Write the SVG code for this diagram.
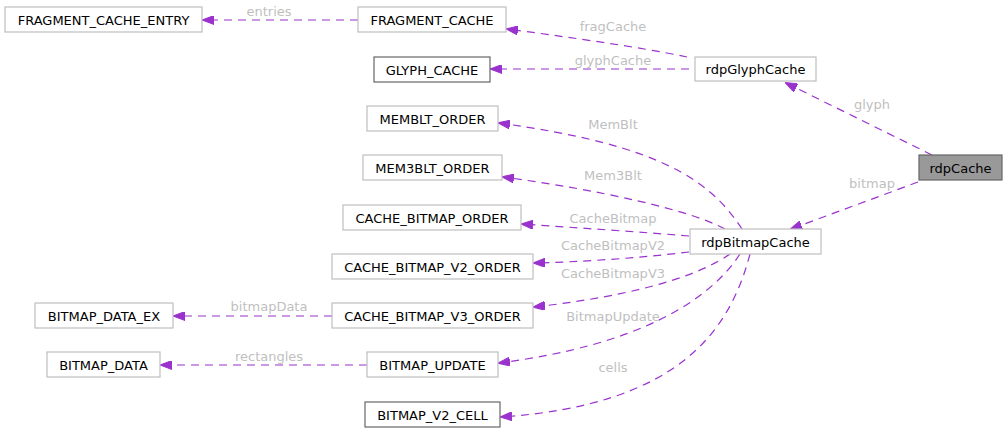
<svg xmlns="http://www.w3.org/2000/svg" width="1008" height="433" viewBox="0 0 1008 433">
<style>
text{font-family:"DejaVu Sans","Liberation Sans",sans-serif;font-size:13px;text-anchor:middle}
.n rect{fill:#fff;stroke:#bfbfbf;stroke-width:1.2}
.n text{fill:#000}
.d rect{stroke:#666}
.r rect{fill:#999;stroke:#666}
.e path{fill:none;stroke:#9a32cd;stroke-width:1.2;stroke-dasharray:8,6;marker-end:url(#ah)}
.e text{fill:#bfbfbf}
</style>
<defs>
<marker id="ah" viewBox="0 0 12 9" refX="11" refY="4.5" markerWidth="12" markerHeight="9" markerUnits="userSpaceOnUse" orient="auto">
<path d="M0,0 L12,4.5 L0,9 Z" fill="#9a32cd" stroke="#9a32cd" stroke-width="1"/>
</marker>
</defs>
<g id="edges" class="e">
<path d="M358,20 L203,20"/><text x="269" y="16">entries</text>
<path d="M687,57 C640,47 560,36 507,29"/><text x="613" y="31">fragCache</text>
<path d="M689,69 L491,69"/><text x="613" y="65">glyphCache</text>
<path d="M932,155 L786,83"/><text x="872" y="109">glyph</text>
<path d="M918,182 L791,229"/><text x="872" y="188">bitmap</text>
<path d="M742,229 C710,180 660,145 499,123"/><text x="613" y="129">MemBlt</text>
<path d="M725,229 C690,210 600,190 503,177"/><text x="613" y="180">Mem3Blt</text>
<path d="M689,236 C640,232 580,228 522,224"/><text x="613" y="223">CacheBitmap</text>
<path d="M689,252 C640,258 580,262 534,263"/><text x="613" y="250">CacheBitmapV2</text>
<path d="M730,254 C700,275 640,295 534,307"/><text x="613" y="278">CacheBitmapV3</text>
<path d="M740,254 C710,300 640,345 499,363"/><text x="613" y="321">BitmapUpdate</text>
<path d="M750,254 C730,330 680,405 501,417"/><text x="613" y="372">cells</text>
<path d="M332,316 L174,316"/><text x="269" y="311">bitmapData</text>
<path d="M367,365 L161,365"/><text x="269" y="361">rectangles</text>
</g>
<g id="FRAGMENT_CACHE_ENTRY" class="n"><rect x="5" y="7" width="197" height="25"/><text x="103.5" y="24.5">FRAGMENT_CACHE_ENTRY</text></g>
<g id="FRAGMENT_CACHE" class="n"><rect x="358" y="7" width="148" height="25"/><text x="432" y="24.5">FRAGMENT_CACHE</text></g>
<g id="GLYPH_CACHE" class="n d"><rect x="374" y="57" width="116" height="25"/><text x="432" y="74.5">GLYPH_CACHE</text></g>
<g id="rdpGlyphCache" class="n"><rect x="695" y="57" width="121" height="24"/><text x="755.5" y="74">rdpGlyphCache</text></g>
<g id="rdpCache" class="n r"><rect x="919" y="155" width="83" height="25"/><text x="960.5" y="172.5">rdpCache</text></g>
<g id="MEMBLT_ORDER" class="n"><rect x="367" y="106" width="131" height="25"/><text x="432.5" y="123.5">MEMBLT_ORDER</text></g>
<g id="MEM3BLT_ORDER" class="n"><rect x="363" y="155" width="139" height="25"/><text x="432.5" y="172.5">MEM3BLT_ORDER</text></g>
<g id="CACHE_BITMAP_ORDER" class="n"><rect x="343" y="205" width="178" height="25"/><text x="432" y="222.5">CACHE_BITMAP_ORDER</text></g>
<g id="rdpBitmapCache" class="n"><rect x="690" y="229" width="131" height="25"/><text x="755.5" y="246.5">rdpBitmapCache</text></g>
<g id="CACHE_BITMAP_V2_ORDER" class="n"><rect x="332" y="254" width="201" height="25"/><text x="432.5" y="271.5">CACHE_BITMAP_V2_ORDER</text></g>
<g id="BITMAP_DATA_EX" class="n"><rect x="35" y="303" width="138" height="25"/><text x="104" y="320.5">BITMAP_DATA_EX</text></g>
<g id="CACHE_BITMAP_V3_ORDER" class="n"><rect x="332" y="303" width="201" height="25"/><text x="432.5" y="320.5">CACHE_BITMAP_V3_ORDER</text></g>
<g id="BITMAP_DATA" class="n"><rect x="47" y="352" width="113" height="25"/><text x="103.5" y="369.5">BITMAP_DATA</text></g>
<g id="BITMAP_UPDATE" class="n"><rect x="367" y="352" width="131" height="25"/><text x="432.5" y="369.5">BITMAP_UPDATE</text></g>
<g id="BITMAP_V2_CELL" class="n d"><rect x="365" y="402" width="135" height="25"/><text x="432.5" y="419.5">BITMAP_V2_CELL</text></g>
</svg>
